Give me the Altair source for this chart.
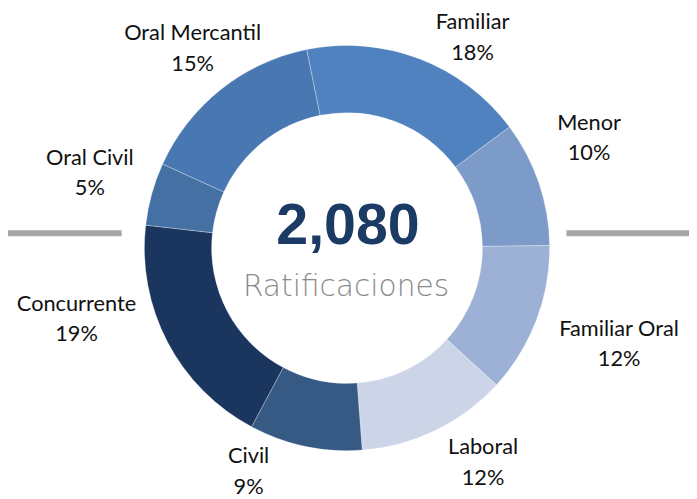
import math
import altair as alt
import pandas as pd

# ---- data ----
categories = ["Familiar", "Menor", "Familiar Oral", "Laboral", "Civil",
              "Concurrente", "Oral Civil", "Oral Mercantil"]
shares = [18, 10, 12, 12, 9, 19, 5, 15]
total = 2080
center_label = "Ratificaciones"

# ---- style ----
colors = ["#4f82be", "#7c9bc9", "#9cb1d5", "#cbd5e7", "#365a84",
          "#1b365e", "#4570a4", "#4877b1"]
START_DEG = -11.5
# label placement tweaks (angle nudge in share units, distance from centre in px)
label_nudge = [2.75, -1.6, -0.4, -1.8, 3.3, 3.6, 0.2, 0.2]
label_dist = [248, 269, 292, 257, 247, 283, 271, 255]

W, H = 686, 480

df = pd.DataFrame({"cat": categories, "share": shares, "order": range(len(categories))})
cum = df["share"].cumsum()
df["mid"] = cum - df["share"] / 2
df["label_theta"] = df["mid"] + pd.Series(label_nudge)
df["label_r"] = label_dist
df["label"] = df["cat"] + "\n" + df["share"].astype(str) + "%"

start = math.radians(START_DEG)
theta_scale = alt.Scale(domain=[0, 100], range=[start, start + 2 * math.pi])

base = alt.Chart(df)

arcs = base.mark_arc(outerRadius=205, innerRadius=137, stroke="#ffffff",
                     strokeWidth=0.6, strokeOpacity=0.5).encode(
    theta=alt.Theta("share:Q", stack=True, scale=theta_scale),
    order=alt.Order("order:Q"),
    color=alt.Color("cat:N", scale=alt.Scale(domain=categories, range=colors), legend=None),
)

labels = base.mark_text(font="Lato", fontSize=22, lineBreak="\n", lineHeight=31,
                        color="#111111", align="center", baseline="middle", dy=-15.5).encode(
    theta=alt.Theta("label_theta:Q", scale=theta_scale, stack=None),
    radius=alt.Radius("label_r:Q", scale=None),
    text="label:N",
)

center_df = pd.DataFrame({"big": [f"{total:,}"], "small": [center_label]})
big = alt.Chart(center_df).mark_text(font="Liberation Sans", fontWeight="bold", fontSize=58,
                                     color="#1b3a64", align="center", baseline="alphabetic").encode(
    x=alt.value(W / 2 + 1), y=alt.value(236), text="big:N")
small = alt.Chart(center_df).mark_text(font="DejaVu Sans", fontWeight=200, fontSize=30,
                                       color="#8a8a8a", align="center", baseline="alphabetic").encode(
    x=alt.value(W / 2 - 1), y=alt.value(288), text="small:N")

rule_left = alt.Chart(center_df).mark_rule(color="#a6a6a6", strokeWidth=6).encode(
    x=alt.value(0), x2=alt.value(115), y=alt.value(225))
rule_right = alt.Chart(center_df).mark_rule(color="#a6a6a6", strokeWidth=6).encode(
    x=alt.value(565), x2=alt.value(689), y=alt.value(225))

chart = alt.layer(arcs, labels, big, small, rule_left, rule_right).properties(
    width=W, height=H,
    autosize=alt.AutoSizeParams(type="none"),
    padding={"left": 0, "top": 0, "right": 3, "bottom": 11},
).configure_view(stroke=None).resolve_scale(theta="shared")

chart.save("out.html", embed_options={"renderer": "svg", "actions": False})
